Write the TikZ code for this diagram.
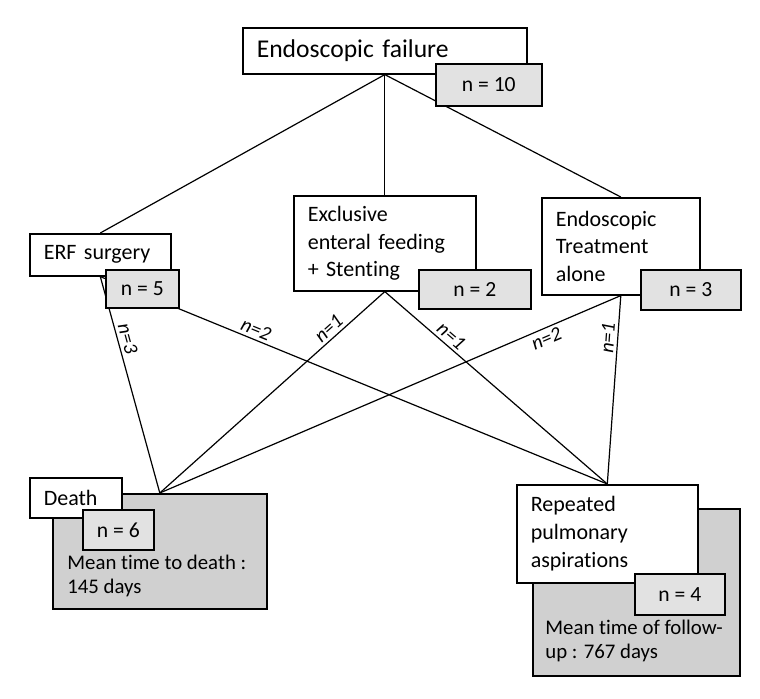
\documentclass[tikz,border=0pt]{standalone}
\usepackage{fontspec}
\setmainfont{Carlito}[Ligatures=CommonOff, Contextuals=AlternateOff]
\usetikzlibrary{calc}
\usetikzlibrary{backgrounds}

\tikzset{
  box/.style={draw, thick, fill=white, anchor=north west, inner xsep=7pt, inner ysep=0pt, align=left, font=\fontsize{11}{13.85}\selectfont},
  nbox/.style={draw, thick, fill=gray!23, anchor=north west, inner sep=0pt, font=\fontsize{10.8}{12}\selectfont},
  bigbox/.style={draw, thick, fill=gray!37, anchor=north west, inner sep=0pt},
  edge/.style={semithick},
  elabel/.style={sloped, inner sep=1.5pt, font=\fontsize{10}{11}\selectfont\itshape}
}

\begin{document}
\begin{tikzpicture}[x=0.5pt, y=-0.5pt]
\useasboundingbox (0,0) rectangle (760,699);

% top
\node[box, minimum width=142pt, minimum height=23pt, text width=128pt, font=\fontsize{12.8}{14}\selectfont] (fail) at (242,27) {Endoscopic failure};
\node[nbox, minimum width=53pt, minimum height=21pt] (nfail) at (435,63) {n = 10};

% treatments
\node[box, minimum width=70.5pt, minimum height=21pt, text width=56.5pt] (erf) at (29,233) {ERF surgery};
\node[nbox, minimum width=36.5pt, minimum height=19pt] (nerf) at (105,269) {n = 5};

\node[box, minimum width=91pt, minimum height=47.5pt, text width=77pt] (feed) at (293,195) {Exclusive\\enteral feeding\\+ Stenting};
\node[nbox, minimum width=56pt, minimum height=19.5pt] (nfeed) at (418,269) {n = 2};

\node[box, minimum width=79pt, minimum height=48.5pt, text width=65pt] (treat) at (541,197) {Endoscopic\\Treatment\\alone};
\node[nbox, minimum width=50pt, minimum height=20pt] (ntreat) at (640,269) {n = 3};

% outcomes
\node[bigbox, minimum width=107pt, minimum height=57.5pt] (deathbg) at (52,493) {};
\node[box, minimum width=46pt, minimum height=20pt, text width=32pt] (death) at (29,477) {Death};
\node[nbox, minimum width=35.5pt, minimum height=20pt] (ndeath) at (82,509) {n = 6};
\node[anchor=north west, inner sep=0pt, align=left, font=\fontsize{10.4}{12}\selectfont] (deathtxt) at (67,555) {Mean time to death :\\145 days};

\node[bigbox, minimum width=103.5pt, minimum height=83.5pt] (repbg) at (532,508) {};
\node[box, minimum width=90.5pt, minimum height=49pt, text width=76.5pt] (rep) at (516,484) {Repeated\\pulmonary\\aspirations};
\node[nbox, minimum width=45pt, minimum height=20.5pt] (nrep) at (634,573) {n = 4};
\node[anchor=north west, inner sep=0pt, align=left, font=\fontsize{10.4}{12}\selectfont] (reptxt) at (545,620) {Mean time of follow-\\up : 767 days};

\begin{pgfonlayer}{background}
\draw[edge] (fail.south) -- (erf.north);
\draw[edge] (fail.south) -- (feed.north);
\draw[edge] (fail.south) -- (treat.north);

\draw[edge] (erf.south) -- node[elabel, pos=0.3, above] {n=3} (deathbg.north);
\draw[edge] (erf.south) -- node[elabel, pos=0.3, above] {n=2} (rep.north);

\draw[edge] (feed.south) -- node[elabel, pos=0.22, above] {n=1} (deathbg.north);
\draw[edge] (feed.south) -- node[elabel, pos=0.27, above] {n=1} (rep.north);

\draw[edge] (treat.south) -- node[elabel, pos=0.17, below] {n=2} (deathbg.north);
\draw[edge] (treat.south) -- node[elabel, pos=0.23, above] {n=1} (rep.north);
\end{pgfonlayer}

\end{tikzpicture}
\end{document}
